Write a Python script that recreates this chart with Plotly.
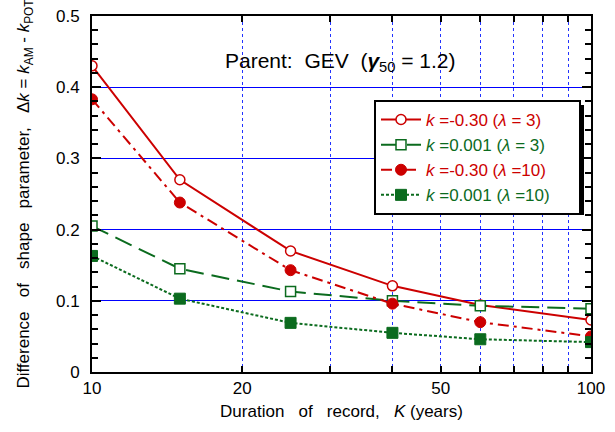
import plotly.graph_objects as go

K = [10, 15, 25, 40, 60, 100]
red_open = [0.430, 0.270, 0.170, 0.121, 0.094, 0.073]
green_open = [0.205, 0.145, 0.113, 0.100, 0.093, 0.089]
red_filled = [0.383, 0.238, 0.143, 0.096, 0.070, 0.050]
green_filled = [0.163, 0.103, 0.069, 0.055, 0.046, 0.042]

RED = "#cc0000"
GREEN = "#0b6b1e"

PAD = "&nbsp;" * 5
labels = [
    "<i>k</i> =-0.30 (<i>λ</i> = 3)",
    "<i>k</i> =0.001 (<i>λ</i> = 3)",
    "<i>k</i> =-0.30 (<i>λ</i> =10)",
    "<i>k</i> =0.001 (<i>λ</i> =10)",
]
label_colors = [RED, GREEN, RED, GREEN]
names = [f"<span style='color:{c}'>{t}</span>{PAD}" for t, c in zip(labels, label_colors)]

x_tickvals = [10, 20, 30, 40, 50, 60, 70, 80, 90, 100]
x_ticktext = ["10", "20", "", "", "50", "", "", "", "", "100"]
y_tickvals = [0, 0.1, 0.2, 0.3, 0.4, 0.5]
y_ticktext = ["0", "0.1", "0.2", "0.3", "0.4", "0.5"]

fig = go.Figure()
fig.add_trace(go.Scatter(x=K, y=red_open, name=names[0], mode="lines+markers",
                         line=dict(color=RED, width=2, dash="solid"),
                         marker=dict(symbol="circle", size=10, color="white",
                                     line=dict(color=RED, width=1.5))))
fig.add_trace(go.Scatter(x=K, y=green_open, name=names[1], mode="lines+markers",
                         line=dict(color=GREEN, width=2, dash="18px,8px"),
                         marker=dict(symbol="square", size=10, color="white",
                                     line=dict(color=GREEN, width=1.5))))
fig.add_trace(go.Scatter(x=K, y=red_filled, name=names[2], mode="lines+markers",
                         line=dict(color=RED, width=2, dash="11px,5px,3px,5px"),
                         marker=dict(symbol="circle", size=11, color=RED,
                                     line=dict(color=RED, width=1))))
fig.add_trace(go.Scatter(x=K, y=green_filled, name=names[3], mode="lines+markers",
                         line=dict(color=GREEN, width=2, dash="3px,2px"),
                         marker=dict(symbol="square", size=11, color=GREEN,
                                     line=dict(color=GREEN, width=1))))

L, T, W, H = 92, 16, 499, 356
def px(x):
    return (x - L) / W
def py(y):
    return (T + H - y) / H

# legend shadow
fig.add_shape(type="rect", xref="paper", yref="paper",
              x0=px(380), x1=px(584), y0=py(215), y1=py(105),
              fillcolor="black", line=dict(width=0), layer="above")

fig.add_annotation(text="Parent:  GEV  (<b><i>γ</i></b><sub>50</sub> = 1.2)",
                   xref="paper", yref="paper", x=px(340), y=py(62),
                   xanchor="center", yanchor="middle",
                   showarrow=False, font=dict(size=21, color="black"))

fig.update_layout(
    width=615, height=432,
    margin=dict(l=L, r=615 - L - W, t=T, b=432 - T - H, autoexpand=False),
    paper_bgcolor="white", plot_bgcolor="white",
    font=dict(family="Liberation Sans, Arial, sans-serif", size=15, color="black"),
    showlegend=True,
    legend=dict(x=px(374), y=py(100), xanchor="left", yanchor="top",
                bgcolor="white", bordercolor="black", borderwidth=2,
                font=dict(size=17), tracegroupgap=0, itemwidth=40),
)
fig.update_xaxes(type="log", range=[1, 2], tickvals=x_tickvals, ticktext=x_ticktext,
                 ticks="inside", ticklen=6, tickcolor="black", tickwidth=1.5,
                 showline=True, linecolor="black", linewidth=2, mirror="ticks",
                 showgrid=True, gridcolor="#2233ff", griddash="dot", gridwidth=1,
                 zeroline=False, automargin=False,
                 title=dict(text="Duration   of   record,   <i>K</i> (years)", font=dict(size=17),
                            standoff=8),
                 tickfont=dict(size=17))
fig.update_yaxes(range=[0, 0.5], tickvals=y_tickvals, ticktext=y_ticktext,
                 ticks="inside", ticklen=9, tickcolor="black", tickwidth=2,
                 minor=dict(dtick=0.02, tick0=0, ticks="inside", ticklen=6, tickcolor="black",
                            showgrid=False),
                 showline=True, linecolor="black", linewidth=2, mirror="ticks",
                 showgrid=True, gridcolor="#0000ff", gridwidth=1.2,
                 zeroline=False, automargin=False, ticklabelstandoff=7,
                 title=dict(text="Difference   of   shape   parameter,   Δ<i>k</i> = <i>k</i><sub>AM</sub> - <i>k</i><sub>POT</sub>",
                            font=dict(size=17), standoff=22),
                 tickfont=dict(size=17))

fig.write_html("out.html")
